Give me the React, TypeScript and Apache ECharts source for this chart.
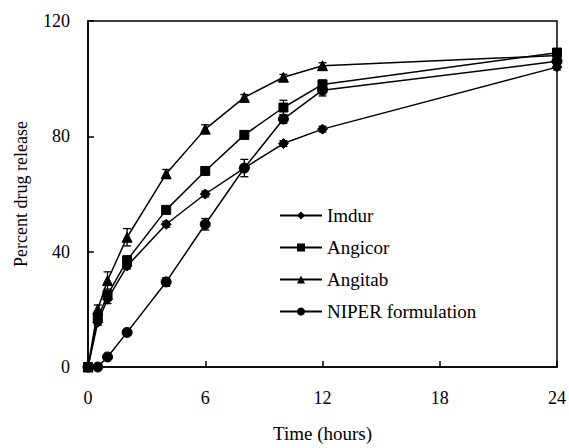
import React, { useEffect, useRef } from "react";
import * as echarts from "echarts";

const timeHours = [0, 0.5, 1, 2, 4, 6, 8, 10, 12, 24];
const imdur = [0, 15.5, 23.5, 35, 49.5, 60, 69, 77.5, 82.5, 104];
const angicor = [0, 17, 25, 37, 54.5, 68, 80.5, 90, 98, 109];
const angitab = [0, 20, 30, 45, 67, 82.5, 93.5, 100.5, 104.5, 108];
const niper = [0, 0, 3.5, 12, 29.5, 49.5, 69, 86, 96, 106];

const imdurErr = [0, 1, 1.5, 1, 1, 1, 1, 1, 1, 1];
const angicorErr = [0, 2, 1, 1.5, 1, 1, 1, 2.5, 1.5, 1.5];
const angitabErr = [0, 1.5, 3, 3, 1.5, 1.5, 1, 1, 1, 1];
const niperErr = [0, 0, 0.5, 1, 1.5, 2, 3, 1.5, 2, 1.5];

const seriesDefs = [
  { name: "Imdur", values: imdur, errs: imdurErr, symbol: "diamond", size: 10 },
  { name: "Angicor", values: angicor, errs: angicorErr, symbol: "rect", size: 9 },
  { name: "Angitab", values: angitab, errs: angitabErr, symbol: "triangle", size: 10 },
  { name: "NIPER formulation", values: niper, errs: niperErr, symbol: "circle", size: 10 },
];

const xTicks = [0, 6, 12, 18, 24];
const yTicks = [0, 40, 80, 120];

const FONT = "Liberation Serif";

export default function App() {
  const ref = useRef<HTMLDivElement>(null);
  useEffect(() => {
    if (!ref.current) return;
    const chart = echarts.init(ref.current, null, { renderer: "svg" });
    const lineSeries = seriesDefs.map((s) => ({
      name: s.name,
      type: "line",
      data: timeHours.map((t, i) => [t, s.values[i]]),
      symbol: s.symbol,
      symbolSize: s.size,
      showAllSymbol: true,
      lineStyle: { color: "#000", width: 1.5 },
      itemStyle: { color: "#000", borderColor: "#000" },
      z: 3,
    }));
    const errSeries = seriesDefs.map((s) => ({
      name: s.name + " err",
      type: "custom",
      data: timeHours.map((t, i) => [t, s.values[i], s.errs[i]]),
      z: 2,
      silent: true,
      renderItem: (params: any, api: any) => {
        const x = api.value(0);
        const y = api.value(1);
        const e = api.value(2);
        if (!e) return null;
        const top = api.coord([x, y + e]);
        const bot = api.coord([x, y - e]);
        const hw = 4;
        const st = { stroke: "#000", lineWidth: 1.3 };
        return {
          type: "group",
          children: [
            { type: "line", shape: { x1: top[0], y1: top[1], x2: bot[0], y2: bot[1] }, style: st },
            { type: "line", shape: { x1: top[0] - hw, y1: top[1], x2: top[0] + hw, y2: top[1] }, style: st },
            { type: "line", shape: { x1: bot[0] - hw, y1: bot[1], x2: bot[0] + hw, y2: bot[1] }, style: st },
          ],
        };
      },
    }));
    chart.setOption({
      animation: false,
      backgroundColor: "#fff",
      textStyle: { fontFamily: FONT },
      grid: { left: 88, right: 10, top: 21, bottom: 78, show: true, borderColor: "#000", borderWidth: 1.5, backgroundColor: "transparent" },
      legend: {
        data: seriesDefs.map((s) => s.name),
        orient: "vertical",
        left: 274,
        top: 201,
        itemWidth: 42,
        itemHeight: 10,
        itemGap: 13,
        textStyle: { fontFamily: FONT, fontSize: 19, color: "#000" },
      },
      xAxis: {
        type: "value",
        min: xTicks[0],
        max: xTicks[xTicks.length - 1],
        interval: 6,
        name: "Time (hours)",
        nameLocation: "middle",
        nameGap: 57,
        nameTextStyle: { fontFamily: FONT, fontSize: 19, color: "#000" },
        axisLine: { show: true, lineStyle: { color: "#000", width: 1.5 } },
        axisTick: { show: true, inside: true, length: 6, lineStyle: { color: "#000", width: 1.5 } },
        axisLabel: { fontFamily: FONT, fontSize: 18, color: "#000", margin: 22 },
        splitLine: { show: false },
      },
      yAxis: {
        type: "value",
        min: yTicks[0],
        max: yTicks[yTicks.length - 1],
        interval: 40,
        name: "Percent drug release",
        nameLocation: "middle",
        nameGap: 58,
        nameTextStyle: { fontFamily: FONT, fontSize: 18, color: "#000" },
        axisLine: { show: true, lineStyle: { color: "#000", width: 1.5 } },
        axisTick: { show: true, inside: true, length: 6, lineStyle: { color: "#000", width: 1.5 } },
        axisLabel: { fontFamily: FONT, fontSize: 18, color: "#000", margin: 18 },
        splitLine: { show: false },
      },
      series: [...errSeries, ...lineSeries],
    });
    return () => chart.dispose();
  }, []);
  return <div ref={ref} style={{ position: "fixed", left: 0, top: 0, width: 569, height: 448 }} />;
}
